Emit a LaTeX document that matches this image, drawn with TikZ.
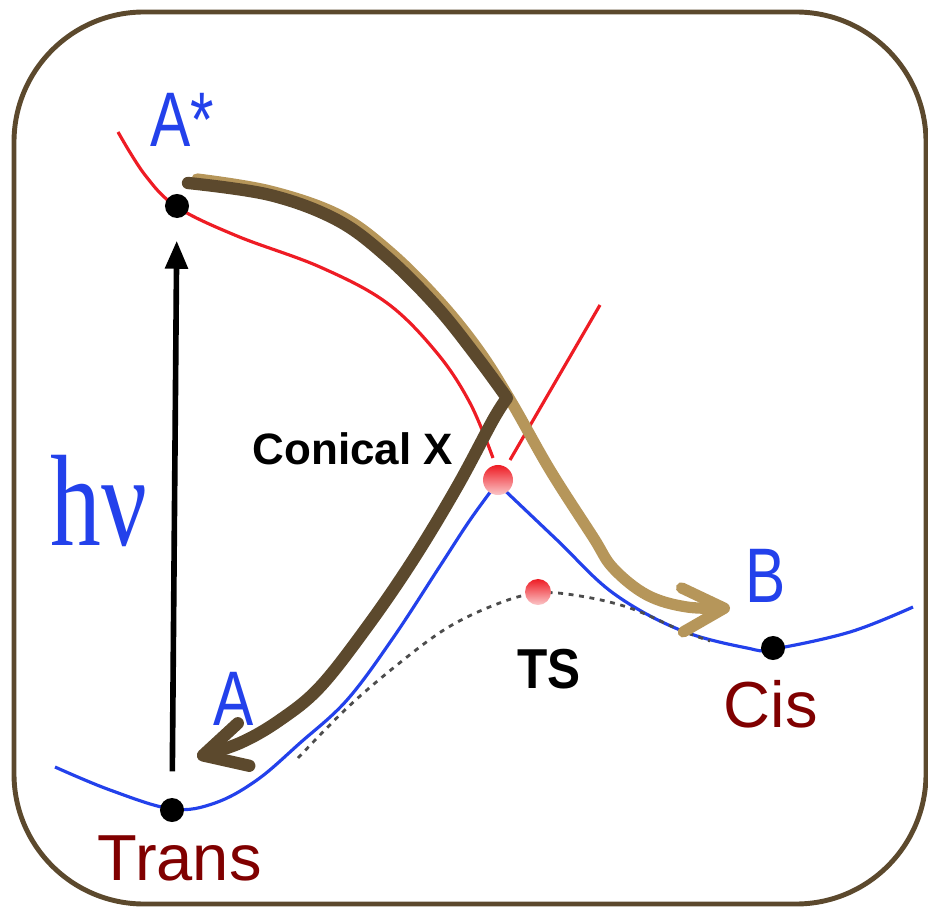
\documentclass[tikz,border=0pt]{standalone}
\usepackage{fontspec}
\setmainfont{Liberation Sans}
\newfontfamily\hvfont{Liberation Serif}
\usepackage{graphicx}
\usetikzlibrary{arrows.meta}

\definecolor{framebrown}{RGB}{92,73,45}
\definecolor{tanbrown}{RGB}{182,150,90}
\definecolor{pesred}{RGB}{238,28,36}
\definecolor{pesblue}{RGB}{35,65,235}
\definecolor{statered}{RGB}{128,0,0}

\newcommand{\narrowtext}[1]{\scalebox{0.78}[1]{#1}}

\begin{document}
\begin{tikzpicture}[x=0.01cm, y=-0.01cm,
    dot/.style={circle, fill=black, inner sep=0pt, minimum size=0.24cm},
    reddot/.style={circle, top color=pesred, bottom color=pesred!25, inner sep=0pt, minimum size=#1},
    reddot/.default=0.28cm,
    pesline/.style={#1, line width=0.9pt},
    tsline/.style={gray!60!black, line width=0.8pt, dash pattern=on 1.4pt off 1.6pt},
    pesname/.style={text=pesblue, inner sep=0pt, font=\fontsize{22}{24}\selectfont},
    isomer/.style={text=statered, inner sep=0pt, font=\fontsize{18.5}{22}\selectfont},
    tag/.style={inner sep=0pt, font=\bfseries\fontsize{12.5}{14}\selectfont},
    decay/.style={#1, line width=3.5pt, line cap=round, line join=round,
        -{Straight Barb[length=0.42cm, width=0.44cm, round]}},
    hvarrow/.style={line width=1.6pt, -{Triangle[length=0.28cm, width=0.22cm]}}]

    \useasboundingbox (0,0) rectangle (928,907);
    \draw[framebrown, line width=1.4pt, rounded corners=1.3cm] (14,12) rectangle (926,904);

    % excited state surface
    \draw[pesline=pesred]
        plot[smooth, tension=0.6] coordinates {(118,132) (145,175) (177,207) (237,236) (320,267) (387,303) (437,353) (470,403) (493,458)};
    \draw[pesline=pesred] (510,460) -- (600,305);

    % ground state surface
    \draw[pesline=pesblue]
        plot[smooth, tension=0.6] coordinates {(55,767) (110,790) (172,809) (215,803) (257,780) (300,743) (347,700) (393,638) (440,566) (470,520) (497,483)}
        -- plot[smooth, tension=0.6] coordinates {(497,483) (557,540) (613,593) (680,630) (747,648) (773,649) (850,632) (913,607)};
    \draw[tsline]
        plot[smooth, tension=0.6] coordinates {(298,758) (347,708) (397,665) (447,628) (497,604) (538,593) (580,596) (630,608) (680,630) (710,641)};

    \coordinate (start) at (188,183);
    \coordinate (kink) at (507,398);
    \coordinate (endA) at (197,757);
    \coordinate (endB) at (730,608);

    % relaxation paths
    \draw[decay=tanbrown, line width=3.2pt]
        plot[smooth, tension=0.6] coordinates {(197,179) (270,191) (339,215) (390,252) (440,302) (480,352) (512,403) (550,470) (593,537) (613,568) (647,595) (687,607) (endB)};
    \draw[decay=framebrown]
        plot[smooth, tension=0.6] coordinates {(start) (270,195) (337,220) (387,257) (437,307) (477,357) (kink)}
        -- plot[smooth, tension=0.6] coordinates {(kink) (493,420) (457,487) (413,560) (367,627) (320,687) (280,720) (240,743) (endA)};

    \node[dot] (astar) at (177,206) {};
    \node[dot] (trans) at (172,810) {};
    \node[dot] (cis) at (773,648) {};
    \node[reddot=0.3cm] (conical) at (498,480) {};
    \node[reddot=0.26cm] (ts) at (538,592) {};

    \draw[hvarrow, shorten <=0.26cm, shorten >=0.22cm] (trans) -- (astar);

    \node[pesname, anchor=base west] (lblastar) at (150,147) {\narrowtext{A*}};
    \node[pesname, anchor=base west] (lbla) at (213,725) {\narrowtext{A}};
    \node[pesname, anchor=base west] (lblb) at (745,602) {\narrowtext{B}};
    \node[isomer, anchor=base west] (lbltrans) at (97,880) {Trans};
    \node[isomer, anchor=base west] (lblcis) at (723,727) {Cis};
    \node[tag, anchor=base west] (lblconical) at (252,465) {Conical X};
    \node[tag, anchor=base west, font=\bfseries\fontsize{16}{18}\selectfont] (lblts) at (517,688) {\scalebox{0.88}[1]{TS}};
    \node[text=pesblue, inner sep=0pt, anchor=base west, font=\hvfont\fontsize{37}{40}\selectfont] (lblhv) at (50,545) {\narrowtext{hν}};
\end{tikzpicture}
\end{document}
